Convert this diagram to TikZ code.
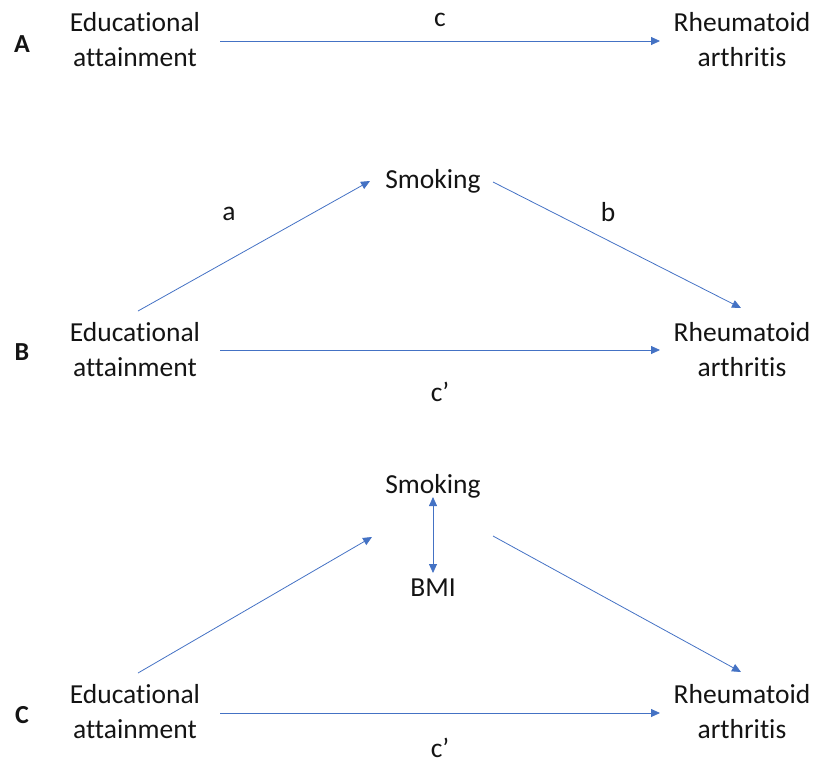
\documentclass[tikz,border=0pt]{standalone}
\usepackage{fontspec}
\setmainfont{Carlito}[Ligatures=NoCommon]
\usetikzlibrary{arrows.meta}
\definecolor{arrblue}{RGB}{68,114,196}
\definecolor{txt}{RGB}{20,20,20}
\begin{document}
\begin{tikzpicture}[x=1pt,y=-1pt,
  lbl/.style={text=txt,font=\fontsize{27.5}{35}\selectfont,inner sep=0pt,align=center},
  panel/.style={text=txt,font=\fontsize{26}{34}\selectfont\bfseries,inner sep=0pt},
  conn/.style={draw=arrblue,line width=0.8pt,-{Triangle[length=9pt,width=8pt]}},
  bidir/.style={draw=arrblue,line width=0.8pt,{Triangle[length=9pt,width=8pt]}-{Triangle[length=9pt,width=8pt]}}]
\useasboundingbox (0,0) rectangle (814,764);
% Panel A
\node[panel] (pA) at (22,44) {A};
\node[lbl] (eA) at (135,40) {Educational\\attainment};
\node[lbl] (rA) at (742,40) {Rheumatoid\\arthritis};
\coordinate (eAs) at (220,41);
\coordinate (rAe) at (660,41);
\draw[conn] (eAs) -- (rAe);
\node[lbl] (c) at (440,20) {c};
% Panel B
\node[panel] (pB) at (22,352) {B};
\node[lbl] (eB) at (135,350) {Educational\\attainment};
\node[lbl] (rB) at (742,350) {Rheumatoid\\arthritis};
\node[lbl] (sB) at (433,181) {Smoking};
\coordinate (eBs) at (220,350);
\coordinate (rBe) at (660,350);
\coordinate (aBs) at (138,311);
\coordinate (aBe) at (370,181);
\coordinate (bBs) at (493,182);
\coordinate (bBe) at (741,308);
\draw[conn] (aBs) -- (aBe);
\draw[conn] (bBs) -- (bBe);
\draw[conn] (eBs) -- (rBe);
\node[lbl] (aL) at (229,214) {a};
\node[lbl] (bL) at (608,212) {b};
\node[lbl] (cpB) at (440,392) {c’};
% Panel C
\node[panel] (pC) at (22,715) {C};
\node[lbl] (eC) at (135,712) {Educational\\attainment};
\node[lbl] (rC) at (742,712) {Rheumatoid\\arthritis};
\node[lbl] (sC) at (433,486) {Smoking};
\node[lbl] (bmi) at (433,588) {BMI};
\coordinate (eCs) at (220,713);
\coordinate (rCe) at (660,713);
\coordinate (aCs) at (138,673);
\coordinate (aCe) at (372,537);
\coordinate (bCs) at (493,536);
\coordinate (bCe) at (741,672);
\coordinate (sCb) at (433,497);
\coordinate (bmiT) at (433,573);
\draw[conn] (aCs) -- (aCe);
\draw[conn] (bCs) -- (bCe);
\draw[conn] (eCs) -- (rCe);
\draw[bidir] (sCb) -- (bmiT);
\node[lbl] (cpC) at (440,748) {c’};
\end{tikzpicture}
\end{document}
